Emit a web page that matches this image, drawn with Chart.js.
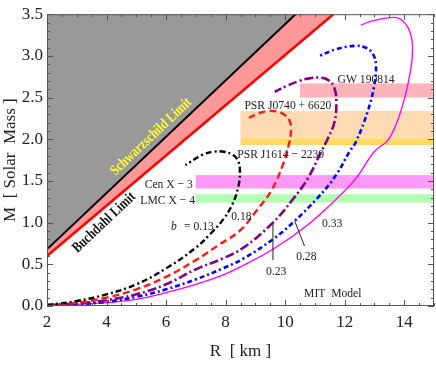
<!DOCTYPE html>
<html>
<head>
<meta charset="utf-8">
<title>MIT Model M-R</title>
<script src="https://cdn.jsdelivr.net/npm/chart.js"></script>
<style>
  body { margin: 0; background: #fff; }
  canvas { display: block; }
</style>
</head>
<body>
<canvas id="mrChart" width="436" height="365"></canvas>
<script>
// M-R curves (R in km, M in solar masses)
const r013 = [2, 3, 4, 5, 6, 7, 7.5, 7.9, 8.2, 8.42, 8.48, 8.42, 8.25, 7.95, 7.6, 7.2, 6.65];
const m013 = [0.01, 0.06, 0.14, 0.26, 0.45, 0.70, 0.87, 1.03, 1.2, 1.42, 1.62, 1.74, 1.81, 1.85, 1.85, 1.81, 1.69];
const r018 = [2, 3, 4, 5, 6, 7, 7.8, 8.47, 9.03, 9.53, 9.92, 10.12, 10.2, 10.15, 10.0, 9.75, 9.45, 9.1, 8.75];
const m018 = [0.01, 0.04, 0.10, 0.20, 0.35, 0.55, 0.74, 0.90, 1.14, 1.38, 1.69, 1.93, 2.12, 2.22, 2.29, 2.33, 2.34, 2.31, 2.25];
const r023 = [2, 3, 4, 5, 6, 7, 7.9, 8.6, 9.59, 10.26, 10.76, 11.21, 11.45, 11.66, 11.72, 11.65, 11.45, 11.15, 10.8, 10.48, 10.05, 9.65];
const m023 = [0.01, 0.03, 0.07, 0.14, 0.26, 0.44, 0.57, 0.70, 1.0, 1.28, 1.53, 1.85, 2.02, 2.21, 2.44, 2.62, 2.71, 2.74, 2.73, 2.70, 2.64, 2.57];
const r028 = [2, 3, 4, 5, 6, 7, 7.9, 8.6, 9.59, 10.26, 11.1, 11.71, 12.16, 12.38, 12.77, 12.99, 13.05, 12.95, 12.7, 12.33, 11.71, 11.15];
const m028 = [0.01, 0.02, 0.05, 0.11, 0.20, 0.32, 0.45, 0.57, 0.80, 1.0, 1.30, 1.57, 1.85, 1.97, 2.33, 2.64, 2.88, 3.02, 3.10, 3.12, 3.08, 3.0];
const r033 = [2, 3, 4, 5, 6, 7, 7.9, 8.5, 9.59, 10.71, 11.71, 12.38, 12.99, 13.5, 13.94, 14.22, 14.28, 14.2, 14.05, 13.83, 13.55, 13.2, 12.85, 12.55];
const m033 = [0.01, 0.02, 0.04, 0.08, 0.16, 0.26, 0.37, 0.47, 0.68, 0.96, 1.28, 1.53, 1.85, 2.01, 2.40, 2.84, 3.12, 3.28, 3.38, 3.45, 3.46, 3.44, 3.41, 3.37];

// limit lines
const schwR = [2, 10.35];
const schwM = [0.68, 3.5];
const buchR = [2, 11.62];
const buchM = [0.60, 3.5];

// observed mass bands
const bandNames = ['GW 190814', 'PSR J0740 + 6620', 'PSR J1614 \u2212 2230', 'Cen X \u2212 3', 'LMC X \u2212 4'];
const bandLow = [2.50, 2.01, 1.93, 1.41, 1.24];
const bandHigh = [2.67, 2.34, 2.01, 1.57, 1.34];
const bandStartR = [10.5, 8.5, 8.5, 7.0, 7.0];

const xTicks = [2, 4, 6, 8, 10, 12, 14];
const yTicks = [0, 0.5, 1, 1.5, 2, 2.5, 3, 3.5];

const serif = '"Liberation Serif", "Times New Roman", serif';
const bandColors = ['#ffb3ba', '#ffdab3', '#ffd966', '#ff99fa', '#b3ffb3'];

function xy(rs, ms) {
    return rs.map((r, i) => ({ x: r, y: ms[i] }));
}

function drawText(c, txt, x, y, size, opt) {
    opt = opt || {};
    c.save();
    c.translate(x, y);
    if (opt.rot) c.rotate(opt.rot);
    c.scale(opt.sx || 0.86, 1);
    c.font = (opt.style || '') + ' ' + size + 'px ' + serif;
    c.fillStyle = opt.color || '#222';
    c.textAlign = opt.align || 'center';
    c.textBaseline = 'middle';
    c.fillText(txt, 0, 0);
    c.restore();
}

const bandsPlugin = {
    id: 'bands',
    beforeDatasetsDraw(chart) {
        const c = chart.ctx, a = chart.chartArea, x = chart.scales.x, y = chart.scales.y;
        c.save();
        bandNames.forEach((n, i) => {
            const x0 = x.getPixelForValue(bandStartR[i]);
            const y0 = y.getPixelForValue(bandHigh[i]);
            const y1 = y.getPixelForValue(bandLow[i]);
            c.fillStyle = bandColors[i];
            c.fillRect(x0, y0, a.right - x0, y1 - y0);
        });
        c.restore();
    }
};

const framePlugin = {
    id: 'frame',
    afterDatasetsDraw(chart) {
        const c = chart.ctx, a = chart.chartArea, x = chart.scales.x, y = chart.scales.y;
        c.save();
        c.strokeStyle = '#555';
        c.lineWidth = 1;
        c.strokeRect(a.left + 0.5, a.top + 0.5, a.right - a.left - 1, a.bottom - a.top - 1);
        c.beginPath();
        for (let k = 0; k <= 26; k++) {
            const px = Math.round(x.getPixelForValue(2 + k * 0.5)) + 0.5;
            const len = k % 4 === 0 ? 6 : 3;
            c.moveTo(px, a.bottom); c.lineTo(px, a.bottom - len);
            c.moveTo(px, a.top); c.lineTo(px, a.top + len);
        }
        for (let k = 0; k <= 35; k++) {
            const py = Math.round(y.getPixelForValue(k / 10)) + 0.5;
            const len = k % 5 === 0 ? 6 : 3;
            c.moveTo(a.left, py); c.lineTo(a.left + len, py);
            c.moveTo(a.right, py); c.lineTo(a.right - len, py);
        }
        c.stroke();

        // limit labels along the lines
        const ang = Math.atan2(y.getPixelForValue(schwM[1]) - y.getPixelForValue(schwM[0]),
                               x.getPixelForValue(schwR[1]) - x.getPixelForValue(schwR[0]));
        drawText(c, 'Schwarzschild Limit', x.getPixelForValue(5.5), y.getPixelForValue(2.03), 15,
                 { rot: ang, style: 'bold', color: '#ffff33', sx: 0.8 });
        drawText(c, 'Buchdahl Limit', x.getPixelForValue(3.92), y.getPixelForValue(1.0), 15,
                 { rot: ang, style: 'bold', color: '#111', sx: 0.8 });

        // band names
        drawText(c, bandNames[0], x.getPixelForValue(12.72), y.getPixelForValue(2.72), 13.5);
        drawText(c, bandNames[1], x.getPixelForValue(10.09), y.getPixelForValue(2.40), 13.5);
        drawText(c, bandNames[2], x.getPixelForValue(9.85), y.getPixelForValue(1.82), 13.5);
        drawText(c, bandNames[3], x.getPixelForValue(6.9), y.getPixelForValue(1.46), 13.5, { align: 'right' });
        drawText(c, bandNames[4], x.getPixelForValue(6.97), y.getPixelForValue(1.27), 13.5, { align: 'right' });

        // curve labels
        const bx = x.getPixelForValue(6.9), by = y.getPixelForValue(0.96);
        drawText(c, 'b', bx - 19, by, 13.5, { style: 'italic' });
        drawText(c, '= 0.13', bx + 6, by, 13.5);
        drawText(c, '0.18', x.getPixelForValue(8.53), y.getPixelForValue(1.08), 13.5);
        drawText(c, '0.23', x.getPixelForValue(9.70), y.getPixelForValue(0.41), 13.5);
        drawText(c, '0.28', x.getPixelForValue(10.71), y.getPixelForValue(0.59), 13.5);
        drawText(c, '0.33', x.getPixelForValue(11.58), y.getPixelForValue(0.99), 13.5);
        drawText(c, 'MIT  Model', x.getPixelForValue(11.6), y.getPixelForValue(0.15), 13.5);

        c.strokeStyle = '#222';
        c.beginPath();
        c.moveTo(x.getPixelForValue(9.59), y.getPixelForValue(0.99));
        c.lineTo(x.getPixelForValue(9.59), y.getPixelForValue(0.55));
        c.moveTo(x.getPixelForValue(10.32), y.getPixelForValue(1.02));
        c.lineTo(x.getPixelForValue(10.65), y.getPixelForValue(0.72));
        c.stroke();
        c.restore();
    }
};

document.addEventListener("DOMContentLoaded", function () {
    const ctx = document.getElementById('mrChart').getContext('2d');

    const curve = (label, rs, ms, color, dash, width) => ({
        label: label,
        data: xy(rs, ms),
        showLine: true,
        borderColor: color,
        borderWidth: width,
        borderDash: dash,
        pointRadius: 0,
        tension: 0.4,
        fill: false
    });

    const config = {
        type: 'scatter',
        data: {
            datasets: [
                curve('b = 0.13', r013, m013, '#000000', [6, 3, 2, 3], 2.4),
                curve('b = 0.18', r018, m018, '#ff1a1a', [7, 4], 2.4),
                curve('b = 0.23', r023, m023, '#800080', [9, 3, 2, 3], 2.6),
                curve('b = 0.28', r028, m028, '#0000ff', [5, 3, 2, 3], 2.6),
                curve('b = 0.33', r033, m033, '#ff00ff', [], 1.3),
                {
                    label: 'Schwarzschild Limit',
                    data: xy(schwR, schwM),
                    showLine: true,
                    borderColor: '#000',
                    borderWidth: 2,
                    pointRadius: 0,
                    fill: 'end',
                    backgroundColor: '#999999'
                },
                {
                    label: 'Buchdahl Limit',
                    data: xy(buchR, buchM),
                    showLine: true,
                    borderColor: '#ff0000',
                    borderWidth: 2.5,
                    pointRadius: 0,
                    fill: 'end',
                    backgroundColor: '#ff9999'
                }
            ]
        },
        options: {
            responsive: false,
            animation: false,
            layout: { padding: { top: 11, right: 2, left: 0, bottom: 0 } },
            plugins: {
                legend: { display: false },
                tooltip: { enabled: false }
            },
            scales: {
                x: {
                    type: 'linear',
                    min: 2,
                    max: 15,
                    afterBuildTicks: s => { s.ticks = xTicks.map(v => ({ value: v })); },
                    afterFit: s => { s.height = 59; },
                    grid: { display: false, drawTicks: false },
                    border: { display: false },
                    ticks: { font: { family: serif, size: 17 }, color: '#222', padding: 6, autoSkip: false, maxRotation: 0 },
                    title: { display: true, text: 'R  [ km ]', font: { family: serif, size: 17 }, color: '#222', padding: { top: 0, bottom: 3 } }
                },
                y: {
                    type: 'linear',
                    min: 0,
                    max: 3.5,
                    afterBuildTicks: s => { s.ticks = yTicks.map(v => ({ value: v })); },
                    afterFit: s => { s.width = 47; },
                    grid: { display: false, drawTicks: false },
                    border: { display: false },
                    ticks: { font: { family: serif, size: 17 }, color: '#222', padding: 4, autoSkip: false, callback: v => v.toFixed(1) },
                    title: { display: true, text: 'M  [ Solar  Mass ]', font: { family: serif, size: 17 }, color: '#222', padding: { top: 0, bottom: 0 } }
                }
            }
        },
        plugins: [bandsPlugin, framePlugin]
    };

    new Chart(ctx, config);
});
</script>
</body>
</html>
